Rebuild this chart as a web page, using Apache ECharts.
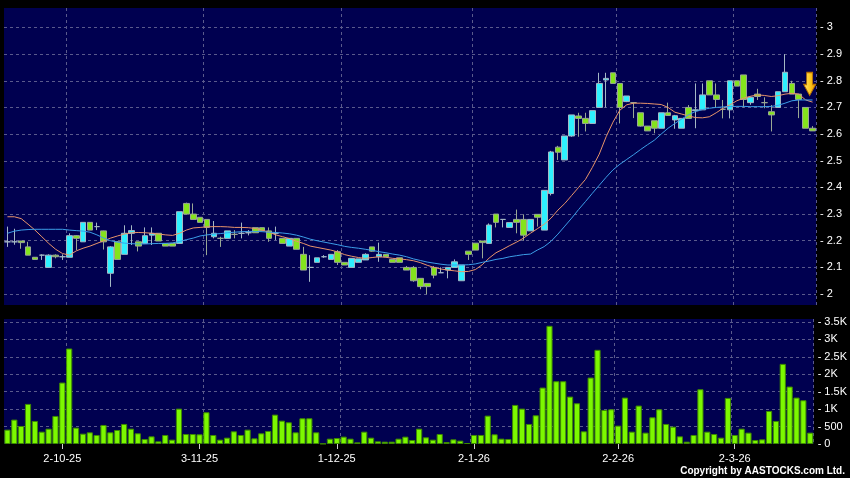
<!DOCTYPE html>
<html><head><meta charset="utf-8">
<script src="https://cdn.jsdelivr.net/npm/echarts@6/dist/echarts.min.js"></script>
<style>html,body{margin:0;padding:0;background:#000;}#c{width:850px;height:478px;}</style>
</head><body><div id="c"></div>
<script>
// ---- data ----
const opens  = [2.196,2.196,2.199,2.177,2.138,2.146,2.100,2.146,2.140,2.138,2.219,2.196,2.269,2.253,2.237,2.078,2.196,2.149,2.228,2.196,2.190,2.221,2.228,2.190,2.190,2.190,2.340,2.300,2.288,2.280,2.215,2.209,2.209,2.224,2.228,2.230,2.249,2.249,2.237,2.228,2.209,2.180,2.209,2.149,2.100,2.119,2.140,2.130,2.159,2.119,2.100,2.119,2.128,2.177,2.140,2.149,2.130,2.136,2.100,2.100,2.059,2.040,2.100,2.080,2.090,2.100,2.050,2.161,2.191,2.199,2.190,2.300,2.280,2.250,2.280,2.280,2.237,2.299,2.240,2.377,2.551,2.503,2.593,2.668,2.659,2.640,2.700,2.803,2.830,2.790,2.722,2.718,2.680,2.630,2.650,2.622,2.680,2.653,2.622,2.700,2.688,2.691,2.800,2.747,2.693,2.691,2.800,2.822,2.718,2.750,2.718,2.684,2.700,2.759,2.790,2.750,2.700,2.622];
const closes = [2.196,2.196,2.193,2.146,2.130,2.146,2.146,2.140,2.140,2.219,2.209,2.269,2.240,2.253,2.196,2.177,2.130,2.228,2.238,2.180,2.219,2.228,2.199,2.180,2.180,2.309,2.300,2.280,2.269,2.250,2.228,2.209,2.237,2.224,2.228,2.230,2.230,2.237,2.209,2.228,2.190,2.209,2.168,2.090,2.100,2.136,2.140,2.149,2.119,2.109,2.134,2.132,2.149,2.161,2.149,2.140,2.119,2.119,2.090,2.050,2.028,2.028,2.071,2.080,2.100,2.121,2.109,2.149,2.165,2.193,2.259,2.269,2.280,2.268,2.269,2.221,2.280,2.288,2.389,2.533,2.532,2.593,2.672,2.659,2.640,2.688,2.790,2.809,2.790,2.700,2.743,2.718,2.630,2.612,2.622,2.680,2.670,2.669,2.659,2.659,2.691,2.747,2.747,2.730,2.693,2.800,2.780,2.730,2.738,2.741,2.718,2.672,2.759,2.832,2.750,2.730,2.622,2.612];
const lows   = [2.177,2.185,2.170,2.146,2.130,2.128,2.099,2.134,2.128,2.138,2.165,2.196,2.240,2.240,2.167,2.027,2.130,2.149,2.184,2.160,2.190,2.184,2.199,2.180,2.180,2.190,2.300,2.280,2.269,2.146,2.209,2.177,2.209,2.209,2.209,2.220,2.230,2.237,2.196,2.203,2.190,2.180,2.168,2.090,2.046,2.119,2.136,2.130,2.109,2.109,2.100,2.119,2.128,2.159,2.121,2.140,2.119,2.119,2.090,2.046,2.018,1.999,2.059,2.080,2.059,2.100,2.050,2.128,2.165,2.134,2.190,2.250,2.250,2.250,2.228,2.200,2.237,2.253,2.240,2.370,2.503,2.503,2.590,2.590,2.610,2.640,2.700,2.700,2.790,2.640,2.720,2.660,2.628,2.612,2.603,2.622,2.670,2.620,2.622,2.659,2.622,2.691,2.747,2.700,2.659,2.659,2.780,2.700,2.710,2.728,2.697,2.610,2.700,2.759,2.750,2.660,2.622,2.612];
const highs  = [2.253,2.245,2.199,2.196,2.139,2.149,2.149,2.149,2.149,2.228,2.221,2.269,2.269,2.268,2.238,2.180,2.199,2.258,2.258,2.196,2.250,2.250,2.228,2.190,2.190,2.309,2.343,2.340,2.288,2.280,2.274,2.215,2.237,2.240,2.268,2.240,2.249,2.249,2.250,2.253,2.209,2.209,2.209,2.177,2.146,2.136,2.146,2.149,2.165,2.119,2.134,2.132,2.153,2.177,2.193,2.149,2.130,2.136,2.105,2.105,2.059,2.040,2.105,2.100,2.100,2.130,2.109,2.161,2.191,2.199,2.265,2.300,2.280,2.268,2.317,2.299,2.280,2.299,2.389,2.537,2.556,2.593,2.672,2.680,2.680,2.688,2.830,2.830,2.830,2.790,2.743,2.720,2.680,2.630,2.650,2.680,2.718,2.672,2.659,2.709,2.790,2.790,2.800,2.790,2.728,2.800,2.800,2.822,2.741,2.770,2.738,2.709,2.759,2.900,2.800,2.750,2.700,2.630];
const volumes = [412,700,517,1150,661,354,440,805,1763,2740,470,297,335,259,546,335,402,575,440,307,144,220,77,259,125,1015,287,287,278,910,259,125,182,364,259,412,163,307,374,843,670,623,335,
  738,738,335,10,153,172,211,153,48,354,182,77,67,67,153,211,115,440,192,125,287,57,134,96,29,259,259,814,278,153,144,1121,1015,575,824,1619,3391,1801,1801,1360,
  1169,364,1906,2702,977,996,527,1332,354,1102,326,766,996,575,498,220,67,259,1571,354,287,182,1322,259,440,326,115,134,948,661,2299,1648,1332,1255,326];
const maShort = [2.29,2.29,2.283,2.262,2.24,2.215,2.19,2.168,2.152,2.146,2.162,2.172,2.18,2.19,2.2,2.21,2.218,2.225,2.23,2.231,2.23,2.228,2.225,2.222,2.22,2.228,2.24,2.248,2.25,2.252,2.253,2.253,2.252,2.25,2.25,2.249,2.246,2.24,2.232,2.222,2.215,2.208,2.198,2.19,2.18,2.175,2.17,2.165,2.158,2.148,2.142,2.137,2.134,2.137,2.14,2.138,2.134,2.132,2.129,2.125,2.118,2.108,2.1,2.094,2.09,2.087,2.084,2.085,2.092,2.11,2.135,2.155,2.168,2.182,2.195,2.21,2.228,2.245,2.262,2.285,2.315,2.34,2.37,2.40,2.43,2.475,2.525,2.59,2.645,2.69,2.71,2.716,2.716,2.715,2.713,2.711,2.7,2.682,2.675,2.668,2.662,2.661,2.665,2.68,2.697,2.71,2.725,2.735,2.742,2.747,2.745,2.741,2.744,2.75,2.753,2.75,2.728,2.72];
const maLong = [2.228,2.236,2.24,2.242,2.243,2.243,2.243,2.243,2.243,2.24,2.238,2.236,2.232,2.222,2.21,2.2,2.195,2.191,2.189,2.188,2.188,2.189,2.19,2.19,2.192,2.197,2.204,2.21,2.218,2.222,2.225,2.227,2.23,2.232,2.234,2.235,2.235,2.234,2.232,2.231,2.229,2.226,2.221,2.214,2.206,2.2,2.195,2.19,2.185,2.179,2.175,2.172,2.168,2.164,2.159,2.155,2.15,2.146,2.14,2.132,2.126,2.12,2.116,2.112,2.109,2.109,2.109,2.11,2.113,2.119,2.124,2.13,2.134,2.14,2.144,2.148,2.15,2.165,2.178,2.198,2.225,2.255,2.285,2.317,2.347,2.378,2.408,2.438,2.466,2.487,2.505,2.523,2.542,2.56,2.577,2.6,2.622,2.64,2.657,2.673,2.685,2.692,2.697,2.7,2.702,2.703,2.704,2.704,2.703,2.703,2.703,2.704,2.708,2.716,2.725,2.728,2.728,2.728];
const xTickLabels = ['2-10-25','3-11-25','1-12-25','2-1-26','2-2-26','2-3-26'];
const xTickIndex  = [8, 28, 48, 68, 89, 106];
const xGridIndex  = [9, 29, 49, 68, 89, 106];
const arrowIndex = 116, arrowValue = 2.788;
const copyrightText = 'Copyright by AASTOCKS.com Ltd.';

// ---- build ----
const categories = opens.map((_, i) => String(i));
const candleData = opens.map((o, i) => [o, closes[i], lows[i], highs[i]]);
const labelAt = {};
xTickIndex.forEach((idx, k) => { labelAt[idx] = xTickLabels[k]; });
const gridSet = new Set(xGridIndex);
const FONT = '"Liberation Sans", Arial, sans-serif';
const dash = { color: '#5a5a8c', type: [3, 3], width: 1 };

const chart = echarts.init(document.getElementById('c'), null, { renderer: 'canvas' });
chart.setOption({
  backgroundColor: '#000000',
  animation: false,
  grid: [
    { left: 4, right: 34, top: 8, height: 297, show: true, backgroundColor: '#000050', borderWidth: 0 },
    { left: 4, right: 34, top: 319, height: 125, show: true, backgroundColor: '#000050', borderWidth: 0 }
  ],
  xAxis: [
    { type: 'category', gridIndex: 0, data: categories, boundaryGap: true,
      axisLine: { show: false }, axisTick: { show: false }, axisLabel: { show: false },
      splitLine: { show: true, interval: (i) => gridSet.has(i), lineStyle: dash } },
    { type: 'category', gridIndex: 1, data: categories, boundaryGap: true,
      axisLine: { show: false },
      axisTick: { show: true, alignWithLabel: true, interval: (i) => (i in labelAt), length: 5, lineStyle: { color: '#d0d0d0' } },
      axisLabel: { show: true, interval: (i) => (i in labelAt), formatter: (v, i) => labelAt[i] || '',
        color: '#ffffff', fontSize: 11, fontFamily: FONT, margin: 9 },
      splitLine: { show: true, interval: (i) => gridSet.has(i), lineStyle: dash } }
  ],
  yAxis: [
    { type: 'value', gridIndex: 0, position: 'right', min: 1.959, max: 3.073, splitNumber: 11, scale: true,
      axisLine: { show: false }, axisTick: { show: false },
      axisLabel: { formatter: (v) => '- ' + v, showMinLabel: false, showMaxLabel: false,
        color: '#ffffff', fontSize: 11, fontFamily: FONT, margin: 4 },
      splitLine: { show: true, showMinLine: false, showMaxLine: false, lineStyle: dash } },
    { type: 'value', gridIndex: 1, position: 'right', min: 0, max: 3586, interval: 500,
      axisLine: { show: false }, axisTick: { show: false },
      axisLabel: { formatter: (v) => '- ' + (v >= 1000 ? (v / 1000) + 'K' : v), showMaxLabel: false,
        color: '#ffffff', fontSize: 11, fontFamily: FONT, margin: 4 },
      splitLine: { show: true, showMinLine: false, showMaxLine: false, lineStyle: dash } }
  ],
  series: [
    { type: 'candlestick', xAxisIndex: 0, yAxisIndex: 0, data: candleData, barWidth: '90%',
      itemStyle: { color: '#2ef0ff', color0: '#84e41c', borderColor: '#a4b8c4', borderColor0: '#9aa894', borderWidth: 1 },
      markPoint: {
        silent: true,
        symbol: 'path://M3,0L9,0L9,12L12,12L6,23L0,12L3,12Z',
        symbolSize: [12, 23],
        label: { show: false },
        data: [{ coord: [categories[arrowIndex], arrowValue], symbolOffset: [4, 0],
          itemStyle: { color: new echarts.graphic.LinearGradient(0, 0, 1, 0, [
            { offset: 0, color: '#ffe680' }, { offset: 0.5, color: '#ffcc20' }, { offset: 1, color: '#e89400' }]),
            borderColor: '#b87000', borderWidth: 1 } }]
      } },
    { type: 'line', xAxisIndex: 0, yAxisIndex: 0, data: maShort, showSymbol: false, smooth: false,
      lineStyle: { color: '#e8946a', width: 1 }, z: 3 },
    { type: 'line', xAxisIndex: 0, yAxisIndex: 0, data: maLong, showSymbol: false, smooth: false,
      lineStyle: { color: '#3c9ee8', width: 1 }, z: 3 },
    { type: 'bar', xAxisIndex: 1, yAxisIndex: 1, data: volumes, barWidth: '90%',
      itemStyle: { color: '#7cf800', borderColor: '#3e8a00', borderWidth: 1 } }
  ],
  graphic: [
    { type: 'text', right: 5, top: 466, silent: true,
      style: { text: copyrightText, fill: '#ffffff', font: 'bold 10px "Liberation Sans", Arial, sans-serif' } }
  ]
});
</script>
</body></html>
